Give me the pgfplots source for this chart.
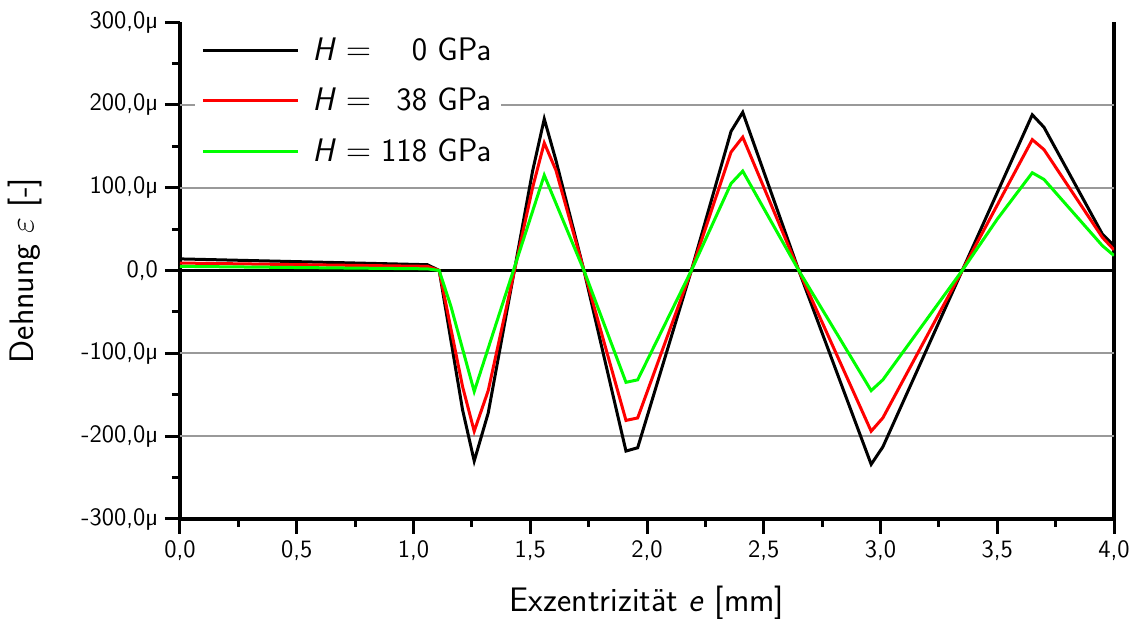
\documentclass[border=0pt]{standalone}
\usepackage{pgfplots}
\pgfplotsset{compat=1.18}
\renewcommand{\familydefault}{\sfdefault}
\pgfplotstableread{
x y
0.00 14
1.06 7
1.11 0
1.21 -168
1.26 -230
1.32 -172
1.51 120
1.56 183
1.61 133
1.73 0
1.91 -218
1.96 -214
2.19 0
2.36 168
2.41 191
2.65 0
2.96 -234
3.01 -213
3.35 0
3.65 188
3.70 173
3.95 44
4.00 30
}\dataA
\pgfplotstableread{
x y
0.00 9
1.06 5
1.11 0
1.21 -140
1.26 -194
1.32 -145
1.51 100
1.56 154
1.61 121
1.73 0
1.91 -181
1.96 -178
2.19 0
2.36 143
2.41 161
2.65 0
2.96 -194
3.01 -178
3.35 0
3.65 158
3.70 146
3.95 40
4.00 25
}\dataB
\pgfplotstableread{
x y
0.00 5
1.06 2
1.11 0
1.16 -43
1.26 -146
1.56 115
1.73 0
1.91 -135
1.96 -132
2.19 0
2.36 105
2.41 120
2.65 0
2.96 -145
3.01 -132
3.35 0
3.50 62
3.65 118
3.70 110
3.95 30
4.00 18
}\dataC
\begin{document}
\begin{tikzpicture}
\useasboundingbox (-90pt,-50pt) rectangle (480pt,259.5pt);
\begin{axis}[
  at={(0pt,0pt)}, anchor=south west,
  scale only axis, width=467pt, height=248.5pt,
  xmin=0, xmax=4, ymin=-300, ymax=300,
  axis x line*=bottom, axis y line*=box,
  axis line style={line width=1.8pt},
  xtick pos=bottom, ytick pos=left,
  tick align=outside,
  major tick length=7.5pt, minor tick length=4pt,
  every tick/.style={black, line width=1.5pt},
  xtick={0,0.5,1,1.5,2,2.5,3,3.5,4},
  xticklabels={0{,}0,0{,}5,1{,}0,1{,}5,2{,}0,2{,}5,3{,}0,3{,}5,4{,}0},
  ytick={-300,-200,-100,0,100,200,300},
  yticklabels={-300{,}0µ,-200{,}0µ,-100{,}0µ,0{,}0,100{,}0µ,200{,}0µ,300{,}0µ},
  minor x tick num=1, minor y tick num=1,
  extra y ticks={-200,-100,100,200},
  extra y tick labels={},
  extra y tick style={grid=major, major tick length=0pt, grid style={gray!80, line width=1pt}},
  tick label style={font=\fontsize{12.5}{15}\selectfont},
  xlabel={Exzentrizität \textit{e} [mm]},
  ylabel={Dehnung $\varepsilon$ [-]},
  label style={font=\fontsize{17}{20}\selectfont},
  xlabel style={at={(axis description cs:0.5,-0.169)}, anchor=center},
  ylabel style={at={(axis description cs:-0.166,0.5)}, anchor=center},
  legend style={at={(axis description cs:0.016,0.985)}, anchor=north west,
    draw=none, fill=white, font=\fontsize{16.3}{19}\selectfont, row sep=8.3pt},
  legend cell align=left,
  legend image code/.code={\draw[#1] (0pt,0pt) -- (47.5pt,0pt); \path (52pt,0pt);},
]
\draw[black, line width=1.8pt] (axis cs:0,0) -- (axis cs:4,0);
\addplot[black, line width=1.5pt] table[x=x,y=y] {\dataA};
\addlegendentry{\textit{H}~$=$~\phantom{11}0~GPa}
\addplot[red, line width=1.5pt] table[x=x,y=y] {\dataB};
\addlegendentry{\textit{H}~$=$~\phantom{1}38~GPa}
\addplot[green, line width=1.5pt] table[x=x,y=y] {\dataC};
\addlegendentry{\textit{H}~$=$~118~GPa}
\end{axis}
\end{tikzpicture}
\end{document}
